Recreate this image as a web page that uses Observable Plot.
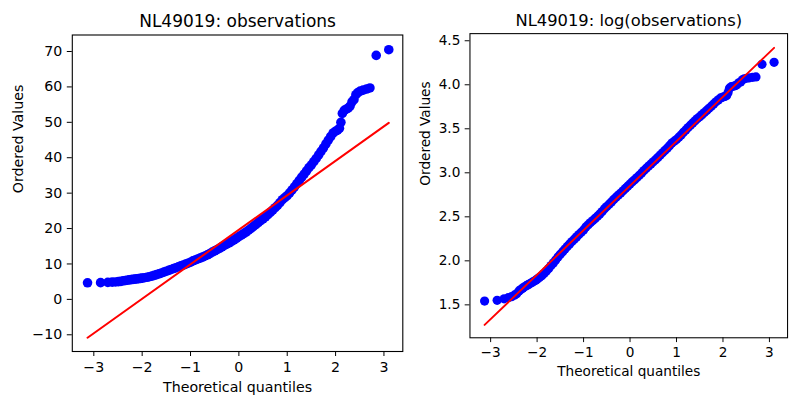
<!DOCTYPE html>
<html>
<head>
<meta charset="utf-8">
<script src="https://cdn.jsdelivr.net/npm/d3@7"></script>
<script src="https://cdn.jsdelivr.net/npm/@observablehq/plot@0.6"></script>
<style>
  html, body { margin: 0; padding: 0; background: white; width: 794px; height: 395px; overflow: hidden; }
  #left, #right { position: absolute; top: 0; }
  #left { left: 0; }
  #right { left: 400px; }
</style>
</head>
<body>
<div id="left"></div>
<div id="right"></div>
<script>
// Theoretical quantiles
const quantiles = [
  -3.13, -2.86, -2.71, -2.62, -2.55, -2.49, -2.44, -2.39, -2.35, -2.31, -2.27, -2.23, -2.19, -2.15, -2.11, -2.07, -2.03,
  -2.00, -1.95, -1.90, -1.85, -1.80, -1.75, -1.70, -1.65, -1.60, -1.55, -1.50, -1.45, -1.40, -1.35, -1.30, -1.25, -1.20,
  -1.15, -1.10, -1.05, -1.00, -0.95, -0.90, -0.85, -0.80, -0.75, -0.70, -0.65, -0.60, -0.55, -0.50, -0.45, -0.40, -0.35,
  -0.30, -0.25, -0.20, -0.15, -0.10, -0.05, 0.00, 0.05, 0.10, 0.15, 0.20, 0.25, 0.30, 0.35, 0.40, 0.45, 0.50, 0.55, 0.60,
  0.65, 0.70, 0.75, 0.80, 0.85, 0.90, 0.95, 1.00, 1.05, 1.10, 1.15, 1.20, 1.25, 1.30, 1.35, 1.40, 1.45, 1.50, 1.55, 1.60,
  1.65, 1.70, 1.75, 1.80, 1.85, 1.90, 1.95, 2.00, 2.04, 2.08, 2.11, 2.14, 2.18, 2.22, 2.26, 2.30, 2.34, 2.38, 2.42, 2.46,
  2.51, 2.57, 2.64, 2.71, 2.84, 3.10
];
// Ordered observations
const observations = [
  4.68, 4.72, 4.80, 4.86, 4.92, 5.00, 5.08, 5.25, 5.33, 5.42, 5.50, 5.57, 5.64, 5.71, 5.78, 5.86, 5.93,
  6.00, 6.12, 6.24, 6.40, 6.58, 6.78, 7.00, 7.22, 7.46, 7.72, 7.96, 8.20, 8.45, 8.70, 8.95, 9.20, 9.45,
  9.70, 9.96, 10.22, 10.50, 10.86, 11.14, 11.41, 11.68, 11.97, 12.27, 12.59, 12.93, 13.36, 13.69, 14.06, 14.43, 14.84,
  15.22, 15.59, 15.97, 16.37, 16.81, 17.26, 17.71, 18.16, 18.58, 19.03, 19.53, 20.05, 20.60, 21.15, 21.68, 22.22, 22.75, 23.31, 23.92,
  24.56, 25.21, 25.89, 26.57, 27.34, 28.15, 28.73, 29.30, 30.10, 30.90, 31.80, 32.70, 33.60, 34.50, 35.40, 36.30, 37.20, 38.00, 38.90, 39.80,
  40.80, 41.80, 42.80, 43.90, 45.00, 46.00, 47.00, 47.50, 47.80, 48.30, 50.00, 52.50, 53.40, 53.70, 54.00, 54.60, 55.80, 56.40, 57.80, 58.40,
  58.80, 59.10, 59.40, 59.70, 68.90, 70.50
];
// Fitted red lines (endpoints)
const lineQ = [-3.13, 3.10];
const lineObs = [-10.83, 49.85];
const lineLogObs = [1.272, 4.419];

const titles = ["NL49019: observations", "NL49019: log(observations)"];
const xLabel = "Theoretical quantiles";
const yLabel = "Ordered Values";

const ptsRaw = quantiles.map((q, i) => ({q, v: observations[i]}));
const ptsLog = quantiles.map((q, i) => ({q, v: Math.log(observations[i])}));
const lineRaw = lineQ.map((q, i) => ({q, v: lineObs[i]}));
const lineLog = lineQ.map((q, i) => ({q, v: lineLogObs[i]}));

function panel({title, pts, line, yDomain, yTicks, yFormat, ml, labelDx}) {
  return Plot.plot({
    width: 410,
    height: 395,
    marginLeft: ml,
    marginRight: 410 - ml - 330.5,
    marginTop: 34.5,
    marginBottom: 44,
    style: {fontFamily: "'DejaVu Sans', sans-serif", fontSize: "14.2px", color: "black", background: "transparent", overflow: "visible"},
    x: {domain: [-3.445, 3.39], ticks: 7, tickSize: 5, tickPadding: 5, label: null},
    y: {domain: yDomain, ticks: yTicks, tickFormat: yFormat, tickSize: 5, tickPadding: 5, label: null},
    marks: [
      Plot.dot(pts, {x: "q", y: "v", r: 4.8, fill: "#0000ff", stroke: "none"}),
      Plot.line(line, {x: "q", y: "v", stroke: "#ff0000", strokeWidth: 2}),
      Plot.frame({stroke: "black", strokeWidth: 1.1}),
      Plot.text([title], {frameAnchor: "top", dy: -13.7, fontSize: 17, lineAnchor: "middle", text: d => d}),
      Plot.text([xLabel], {frameAnchor: "bottom", dy: 35.5, lineAnchor: "middle", text: d => d}),
      Plot.text([yLabel], {frameAnchor: "left", dx: -labelDx, rotate: -90, lineAnchor: "middle", text: d => d})
    ]
  });
}

document.getElementById("left").appendChild(panel({
  title: titles[0], pts: ptsRaw, line: lineRaw,
  yDomain: [-14.72, 74.66], yTicks: 10, yFormat: undefined, ml: 71.8, labelDx: 54
}));
document.getElementById("right").appendChild(panel({
  title: titles[1], pts: ptsLog, line: lineLog,
  yDomain: [1.126, 4.581], yTicks: 7, yFormat: ".1f", ml: 72.3, labelDx: 46.3
}));
</script>
</body>
</html>
